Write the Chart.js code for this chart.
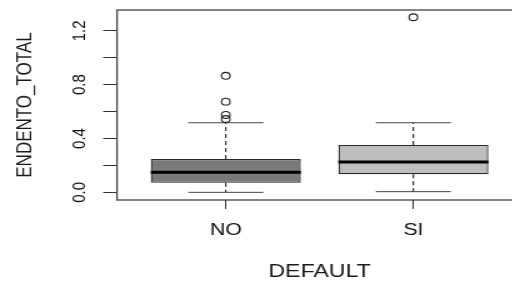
<!DOCTYPE html>
<html>
<head>
<meta charset="utf-8">
<script src="https://cdn.jsdelivr.net/npm/chart.js@4"></script>
<style>
    html, body { margin: 0; padding: 0; background: #fff; overflow: hidden; }
    #wrap {
        position: absolute; left: 0; top: 0;
        width: 430px; height: 284px;
        transform: scaleX(1.25); transform-origin: 0 0;
    }
</style>
</head>
<body>
<div id="wrap"><canvas id="chart"></canvas></div>
<script>
const categories = ['NO', 'SI'];
const q1 = [0.071, 0.134];
const medians = [0.149, 0.225];
const q3 = [0.248, 0.352];
const whiskerLow = [0.0, 0.005];
const whiskerHigh = [0.517, 0.517];
const outliers = [
    [0.545, 0.575, 0.674, 0.866],
    [1.301],
];
const boxColors = ['#7a7a7a', '#bebebe'];
const yTicks = [0, 0.2, 0.4, 0.6, 0.8, 1.0, 1.2];

const FONT = "'Liberation Sans', Arial, sans-serif";

// whiskers, caps, medians and the frame, placed with the chart's scales
const boxPlot = {
    id: 'boxPlot',
    beforeDatasetsDraw(chart) {
        const { ctx, scales: { x, y } } = chart;
        ctx.save();
        categories.forEach((c, i) => {
            const cx = x.getPixelForValue(i + 1);
            ctx.strokeStyle = '#222';
            ctx.lineWidth = 1.1;
            ctx.setLineDash([4, 3]);
            ctx.beginPath();
            ctx.moveTo(cx, y.getPixelForValue(q3[i]));
            ctx.lineTo(cx, y.getPixelForValue(whiskerHigh[i]));
            ctx.moveTo(cx, y.getPixelForValue(q1[i]));
            ctx.lineTo(cx, y.getPixelForValue(whiskerLow[i]));
            ctx.stroke();
            ctx.setLineDash([]);
            ctx.strokeStyle = '#444';
            ctx.lineWidth = 1;
            const l = x.getPixelForValue(i + 1 - 0.2);
            const r = x.getPixelForValue(i + 1 + 0.2);
            [whiskerHigh[i], whiskerLow[i]].forEach((v) => {
                const py = y.getPixelForValue(v);
                ctx.beginPath();
                ctx.moveTo(l, py);
                ctx.lineTo(r, py);
                ctx.stroke();
            });
        });
        ctx.restore();
    },
    afterDatasetsDraw(chart) {
        const { ctx, scales: { x, y } } = chart;
        ctx.save();
        ctx.strokeStyle = '#000';
        ctx.lineWidth = 3;
        categories.forEach((c, i) => {
            const py = y.getPixelForValue(medians[i]);
            ctx.beginPath();
            ctx.moveTo(x.getPixelForValue(i + 1 - 0.4), py);
            ctx.lineTo(x.getPixelForValue(i + 1 + 0.4), py);
            ctx.stroke();
        });
        ctx.restore();
    },
    afterDraw(chart) {
        const { ctx, chartArea: a } = chart;
        ctx.save();
        ctx.strokeStyle = '#444';
        ctx.lineWidth = 1.3;
        ctx.strokeRect(a.left, a.top, a.right - a.left, a.bottom - a.top);
        ctx.restore();
    },
};

new Chart(document.getElementById('chart'), {
    type: 'bar',
    data: {
        datasets: [
            {
                type: 'bar',
                data: categories.map((c, i) => ({ x: i + 1, y: [q1[i], q3[i]] })),
                backgroundColor: boxColors,
                borderColor: '#2a2a2a',
                borderWidth: 1.3,
                borderSkipped: false,
                categoryPercentage: 0.8,
                barPercentage: 1.0,
            },
            {
                type: 'scatter',
                data: outliers.flatMap((vals, i) => vals.map((v) => ({ x: i + 1, y: v }))),
                pointRadius: 3.4,
                pointBorderWidth: 1.1,
                borderColor: '#222',
                backgroundColor: 'rgba(0,0,0,0)',
            },
        ],
    },
    options: {
        responsive: true,
        maintainAspectRatio: false,
        animation: false,
        devicePixelRatio: 1,
        layout: { padding: { top: 10, left: 0, right: 12.3, bottom: 0 } },
        plugins: { legend: { display: false }, tooltip: { enabled: false } },
        scales: {
            x: {
                type: 'linear',
                min: 0.42,
                max: 2.58,
                offset: false,
                afterBuildTicks: (s) => { s.ticks = categories.map((c, i) => ({ value: i + 1 })); },
                afterFit: (s) => { s.height = 84; s.paddingLeft = 0; s.paddingRight = 0; },
                ticks: {
                    callback: (v, i) => categories[i],
                    autoSkip: false,
                    maxRotation: 0,
                    padding: 11,
                    color: '#111',
                    font: { family: FONT, size: 17 },
                },
                grid: { offset: false, drawOnChartArea: false, drawTicks: true, tickLength: 9, color: '#333' },
                border: { display: false },
                title: {
                    display: true,
                    text: 'DEFAULT',
                    color: '#1a1a1a',
                    font: { family: FONT, size: 18.5 },
                    padding: { top: 0, bottom: 1 },
                },
            },
            y: {
                type: 'linear',
                min: -0.057,
                max: 1.355,
                afterBuildTicks: (s) => { s.ticks = yTicks.map((v) => ({ value: v })); },
                afterFit: (s) => { s.width = 93.6; s.paddingTop = 0; s.paddingBottom = 0; },
                ticks: {
                    callback: (v, i) => (i % 2 === 0 ? v.toFixed(1) : ''),
                    minRotation: 90,
                    maxRotation: 90,
                    crossAlign: 'center',
                    padding: 8,
                    color: '#111',
                    font: { family: FONT, size: 15 },
                },
                grid: { drawOnChartArea: false, drawTicks: true, tickLength: 11, color: '#333' },
                border: { display: false },
                title: {
                    display: true,
                    text: 'ENDENTO_TOTAL',
                    color: '#1a1a1a',
                    font: { family: FONT, size: 17 },
                    padding: { top: 10, bottom: 0 },
                },
            },
        },
    },
    plugins: [boxPlot],
});
</script>
</body>
</html>
